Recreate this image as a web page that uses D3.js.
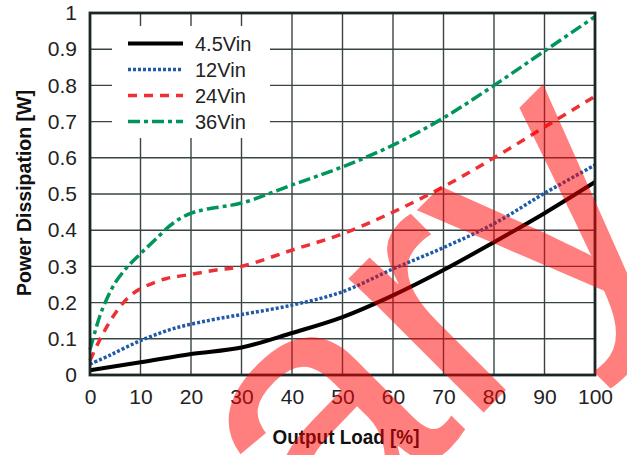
<!DOCTYPE html>
<html>
<head>
<meta charset="utf-8">
<script src="https://cdn.jsdelivr.net/npm/d3@7"></script>
<style>
  html, body { margin: 0; padding: 0; background: #fff; }
  svg { display: block; }
</style>
</head>
<body>
<svg id="chart" width="627" height="455"></svg>
<script>
// ---- data ----
const xTicks = [0, 10, 20, 30, 40, 50, 60, 70, 80, 90, 100];
const yTicks = [0, 0.1, 0.2, 0.3, 0.4, 0.5, 0.6, 0.7, 0.8, 0.9, 1];
const yTickLabels = ["0", "0.1", "0.2", "0.3", "0.4", "0.5", "0.6", "0.7", "0.8", "0.9", "1"];
const seriesNames = ["4.5Vin", "12Vin", "24Vin", "36Vin"];

const load45 = [0, 10, 20, 30, 40, 50, 60, 70, 80, 90, 100];
const pd45   = [0.013, 0.035, 0.058, 0.076, 0.116, 0.16, 0.22, 0.29, 0.367, 0.447, 0.533];

const load12 = [0, 4, 10, 16.5, 24, 30, 40, 50, 60, 70, 80, 90, 100];
const pd12   = [0.03, 0.055, 0.095, 0.128, 0.152, 0.167, 0.193, 0.23, 0.293, 0.352, 0.418, 0.502, 0.58];

const load24 = [0, 1.5, 3, 4.5, 6.5, 8.5, 10.5, 15, 20, 25, 30, 40, 50, 60, 70, 80, 90, 100];
const pd24   = [0.04, 0.085, 0.125, 0.16, 0.198, 0.225, 0.242, 0.266, 0.278, 0.29, 0.30, 0.345, 0.39, 0.45, 0.52, 0.60, 0.685, 0.77];

const load36 = [0, 1, 2, 3, 5, 7.5, 10, 13, 16.5, 20, 23, 30, 40, 50, 60, 70, 80, 90, 100];
const pd36   = [0.07, 0.12, 0.165, 0.2, 0.255, 0.30, 0.335, 0.375, 0.42, 0.447, 0.458, 0.475, 0.525, 0.575, 0.635, 0.71, 0.80, 0.895, 0.99];

const xTitle = "Output Load [%]";
const yTitle = "Power Dissipation [W]";
const watermark = "Preliminary";

// ---- build ----
const series = [
  { name: seriesNames[0], xs: load45, ys: pd45, color: "#000000", width: 4,   dash: null },
  { name: seriesNames[1], xs: load12, ys: pd12, color: "#1f5aa8", width: 3.5, dash: "3,2" },
  { name: seriesNames[2], xs: load24, ys: pd24, color: "#ee2f34", width: 3.5, dash: "9,7" },
  { name: seriesNames[3], xs: load36, ys: pd36, color: "#00955a", width: 3.5, dash: "12,4,4,4" }
];

const svg = d3.select("#chart");
const x = d3.scaleLinear().domain([0, 100]).range([90, 595]);
const y = d3.scaleLinear().domain([0, 1]).range([375, 13]);
const font = "'Liberation Sans Narrow', 'Arial Narrow', 'Liberation Sans', Arial, sans-serif";

// grid
const grid = svg.append("g");
grid.selectAll("line.v").data(xTicks).join("line")
  .attr("x1", d => x(d)).attr("x2", d => x(d))
  .attr("y1", y(1)).attr("y2", y(0))
  .attr("stroke", "#3a4444").attr("stroke-width", 1.4);
grid.selectAll("line.h").data(yTicks).join("line")
  .attr("x1", x(0)).attr("x2", x(100))
  .attr("y1", d => y(d)).attr("y2", d => y(d))
  .attr("stroke", "#3a4444").attr("stroke-width", 1.4);

// lines
const lineGen = d3.line().curve(d3.curveCatmullRom.alpha(0.5)).x(d => x(d[0])).y(d => y(d[1]));
const plot = svg.append("g");
series.forEach(s => {
  const pts = s.xs.map((v, i) => [v, s.ys[i]]);
  plot.append("path")
    .attr("d", lineGen(pts))
    .attr("fill", "none")
    .attr("stroke", s.color)
    .attr("stroke-width", s.width)
    .attr("stroke-dasharray", s.dash)
    .attr("stroke-linecap", "butt")
    .attr("stroke-linejoin", "round");
});

// legend box (white background covering grid)
svg.append("rect").attr("x", 112).attr("y", 26).attr("width", 158).attr("height", 112).attr("fill", "#fff");
const lg = svg.append("g");
series.forEach((s, i) => {
  const ly = 43.5 + i * 26;
  lg.append("line").attr("x1", 128).attr("x2", 183).attr("y1", ly).attr("y2", ly)
    .attr("stroke", s.color).attr("stroke-width", s.width)
    .attr("stroke-dasharray", s.dash);
  lg.append("text").attr("x", 195).attr("y", ly + 7.5)
    .attr("font-family", font).attr("font-size", 20).attr("fill", "#222")
    .text(s.name);
});

// frame
svg.append("rect").attr("x", x(0)).attr("y", y(1)).attr("width", x(100) - x(0)).attr("height", y(0) - y(1))
  .attr("fill", "none").attr("stroke", "#1b2727").attr("stroke-width", 2.8);

// axes
const xAxis = svg.append("g").attr("transform", `translate(0,${y(0)})`)
  .call(d3.axisBottom(x).tickValues(xTicks).tickSize(0).tickPadding(22).tickFormat(d3.format("d")));
const yAxis = svg.append("g").attr("transform", `translate(${x(0)},0)`)
  .call(d3.axisLeft(y).tickValues(yTicks).tickSize(0).tickPadding(13).tickFormat((d, i) => yTickLabels[i]));
[xAxis, yAxis].forEach(a => {
  a.select(".domain").remove();
  a.selectAll("text").attr("font-family", font).attr("font-size", 21).attr("fill", "#222");
});
xAxis.selectAll("text").attr("dy", "0.32em");

// axis titles
svg.append("text").attr("transform", "translate(346,444) scale(0.9,1)").attr("text-anchor", "middle")
  .attr("font-family", font).attr("font-weight", "bold").attr("font-size", 21).attr("fill", "#111")
  .text(xTitle);
svg.append("text").attr("transform", "translate(31,193) rotate(-90) scale(0.93,1)").attr("text-anchor", "middle")
  .attr("font-family", font).attr("font-weight", "bold").attr("font-size", 21).attr("fill", "#111")
  .text(yTitle);

// watermark
svg.append("text").attr("transform", "translate(678,218) rotate(-45)").attr("text-anchor", "end")
  .attr("font-family", "'Liberation Sans', Arial, sans-serif").attr("font-size", 360)
  .attr("fill", "#ff0000").attr("fill-opacity", 0.5)
  .text(watermark);
</script>
</body>
</html>
